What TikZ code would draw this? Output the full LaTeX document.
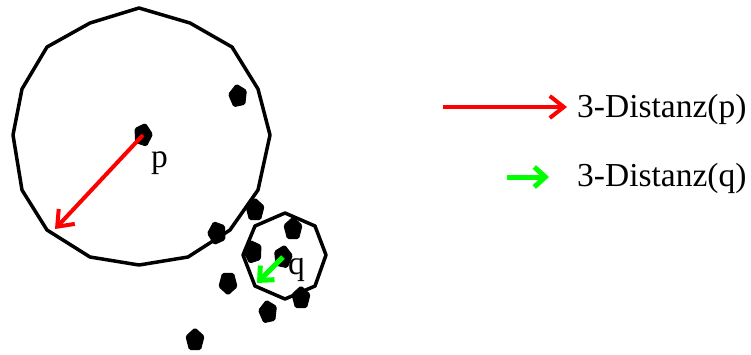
\documentclass[tikz,border=0pt]{standalone}
\usepackage{fontspec}
\setmainfont{Liberation Serif}
\usetikzlibrary{shapes.geometric,arrows.meta}
\begin{document}
\begin{tikzpicture}[x=1pt,y=-1pt,
  blob/.style={regular polygon,regular polygon sides=5,fill=black,draw=black,line width=1pt,rounded corners=1.5pt,minimum size=19pt,inner sep=0pt,transform shape,yscale=1.25},
  ring/.style={draw=black,line width=3.5pt,line join=round},
  redarr/.style={draw=red,line width=4pt,-{Straight Barb[length=14pt,width=22pt,line width=4pt]}},
  greenarr/.style={draw=green,line width=5pt,-{Straight Barb[length=11pt,width=20pt,line width=5pt]}},
  lbl/.style={font=\fontsize{33.5}{40}\selectfont,inner sep=0pt,anchor=base west}]
\useasboundingbox (0,0) rectangle (751,354);
% big polygon
\draw[ring] (139,8) -- (190,23) -- (232,47) -- (258,89) -- (270,135) -- (258,190) -- (230,230) -- (188,257) -- (139,265) -- (90,257) -- (47,230) -- (22,190) -- (13,135) -- (22,89) -- (47,47) -- (90,23) -- cycle;
% small polygon
\draw[ring] (285,213) -- (315,226) -- (326,255) -- (315,286) -- (285,299) -- (255,286) -- (243,255) -- (255,226) -- cycle;
% points
\node[blob,rotate=10] (b1) at (238,96) {};
\node[blob,rotate=-15] (p) at (143,135) {};
\node[blob,rotate=0] (b3) at (255,210) {};
\node[blob,rotate=20] (b4) at (217,233) {};
\node[blob,rotate=0] (b5) at (293,229) {};
\node[blob,rotate=15] (b6) at (253,252) {};
\node[blob,rotate=-10] (q) at (283,257) {};
\node[blob,rotate=180] (b8) at (228,283) {};
\node[blob,rotate=0] (b9) at (301,298) {};
\node[blob,rotate=10] (b10) at (268,312) {};
\node[blob,rotate=0] (b11) at (195,340) {};
% labels
\node[lbl] (pl) at (151,167) {p};
\node[lbl] (ql) at (288,274) {q};
% distance arrows
\coordinate (pe) at (55,229);
\coordinate (qe) at (257,283);
\draw[redarr] (p.center) -- (pe);
\draw[greenarr] (q.center) -- (qe);
% legend
\coordinate (r1) at (443,107);
\coordinate (r2) at (567,107);
\coordinate (g1) at (507,177);
\coordinate (g2) at (549,177);
\draw[redarr] (r1) -- (r2);
\draw[greenarr] (g1) -- (g2);
\node[lbl] (t1) at (577,117) {3-Distanz(p)};
\node[lbl] (t2) at (577,186) {3-Distanz(q)};
\end{tikzpicture}
\end{document}
